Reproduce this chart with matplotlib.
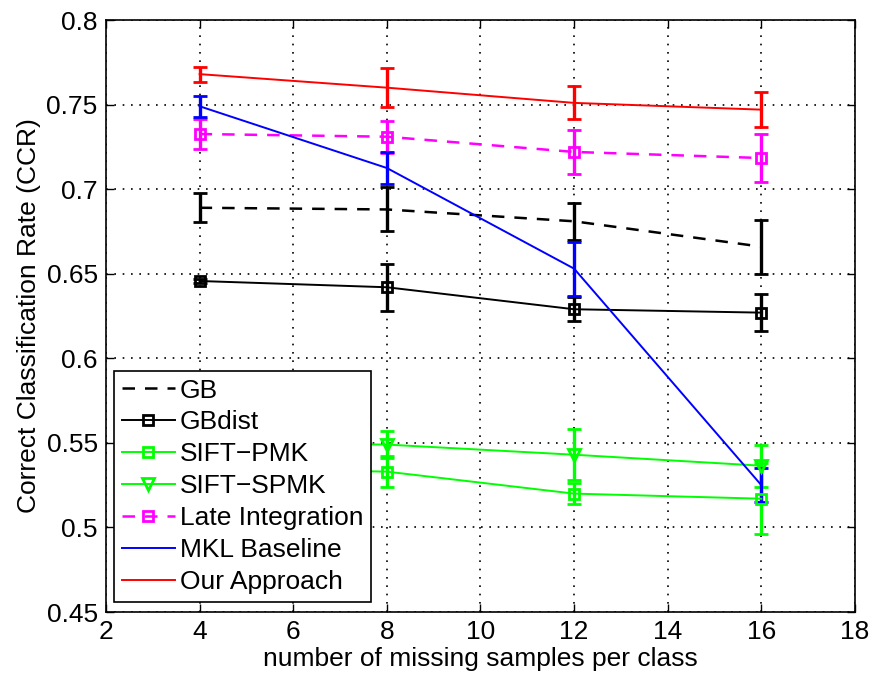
import matplotlib
matplotlib.use("Agg")
import matplotlib.pyplot as plt

plt.rcParams['font.family'] = ['Liberation Sans', 'DejaVu Sans']

x = [4, 8, 12, 16]

gb = [0.689, 0.688, 0.681, 0.666]
gb_err = [0.0085, 0.013, 0.011, 0.016]
gbdist = [0.6457, 0.642, 0.629, 0.627]
gbdist_err = [0.001, 0.014, 0.007, 0.011]
pmk = [0.535, 0.533, 0.520, 0.517]
pmk_err = [0.008, 0.009, 0.006, 0.021]
spmk = [0.550, 0.549, 0.543, 0.5365]
spmk_err = [0.008, 0.008, 0.015, 0.0125]
late = [0.7326, 0.731, 0.722, 0.7184]
late_err = [0.009, 0.0095, 0.0128, 0.014]
mkl = [0.749, 0.7125, 0.653, 0.525]
mkl_err = [0.0062, 0.0095, 0.016, 0.010]
ours = [0.768, 0.760, 0.751, 0.747]
ours_err = [0.0045, 0.0115, 0.0097, 0.0105]

labels = ['GB', 'GBdist', 'SIFT\u2212PMK', 'SIFT\u2212SPMK', 'Late Integration',
          'MKL Baseline', 'Our Approach']

xticks = [2, 4, 6, 8, 10, 12, 14, 16, 18]
yticks = [0.45, 0.5, 0.55, 0.6, 0.65, 0.7, 0.75, 0.8]
ytick_labels = ['0.45', '0.5', '0.55', '0.6', '0.65', '0.7', '0.75', '0.8']

fig = plt.figure(figsize=(8.71, 6.78), dpi=100)
ax = fig.add_axes([0.1217, 0.0973, 0.8599, 0.8732])

series = [
    (gb, gb_err, dict(color='black', ls='--', marker=None)),
    (gbdist, gbdist_err, dict(color='black', ls='-', marker='s')),
    (pmk, pmk_err, dict(color=(0, 1, 0), ls='-', marker='s')),
    (spmk, spmk_err, dict(color=(0, 1, 0), ls='-', marker='v')),
    (late, late_err, dict(color=(1, 0, 1), ls='--', marker='s')),
    (mkl, mkl_err, dict(color=(0, 0, 1), ls='-', marker=None)),
    (ours, ours_err, dict(color=(1, 0, 0), ls='-', marker=None)),
]

handles = []
for (vals, errs, st), lab in zip(series, labels):
    lw = 1.8 if st['ls'] == '--' else 1.4
    ms = 9 if st['marker'] == 'v' else 7.5
    c = ax.errorbar(x, vals, yerr=errs, color=st['color'], ls=st['ls'],
                    marker=st['marker'], markersize=ms, markerfacecolor='none',
                    markeredgewidth=2.0, lw=lw, elinewidth=2.4, capsize=5,
                    capthick=2.4, label=lab, dashes=(5, 4) if st['ls'] == '--' else (None, None))
    handles.append(c[0])

ax.set_xlim(2, 18)
ax.set_ylim(0.45, 0.8)
ax.set_xticks(xticks)
ax.set_xticklabels([str(t) for t in xticks])
ax.set_yticks(yticks)
ax.set_yticklabels(ytick_labels)
ax.tick_params(direction='in', length=6, width=1, top=True, right=True,
               labelsize=19, pad=6)
ax.grid(True, ls=(0, (1, 4)), color='black', lw=1.2)
for s in ax.spines.values():
    s.set_linewidth(1.2)

ax.set_xlabel('number of missing samples per class', fontsize=19, labelpad=2)
ax.set_ylabel('Correct Classification Rate (CCR)', fontsize=19, labelpad=4)

leg = ax.legend(handles, labels, loc='lower left', bbox_to_anchor=(0.0107, 0.017),
                borderaxespad=0, fontsize=19, handlelength=2.0, handletextpad=0.2,
                labelspacing=0.3, borderpad=0.3, fancybox=False, framealpha=1,
                edgecolor='black')
leg.get_frame().set_linewidth(1.2)

fig.savefig('out.png', dpi=100)
